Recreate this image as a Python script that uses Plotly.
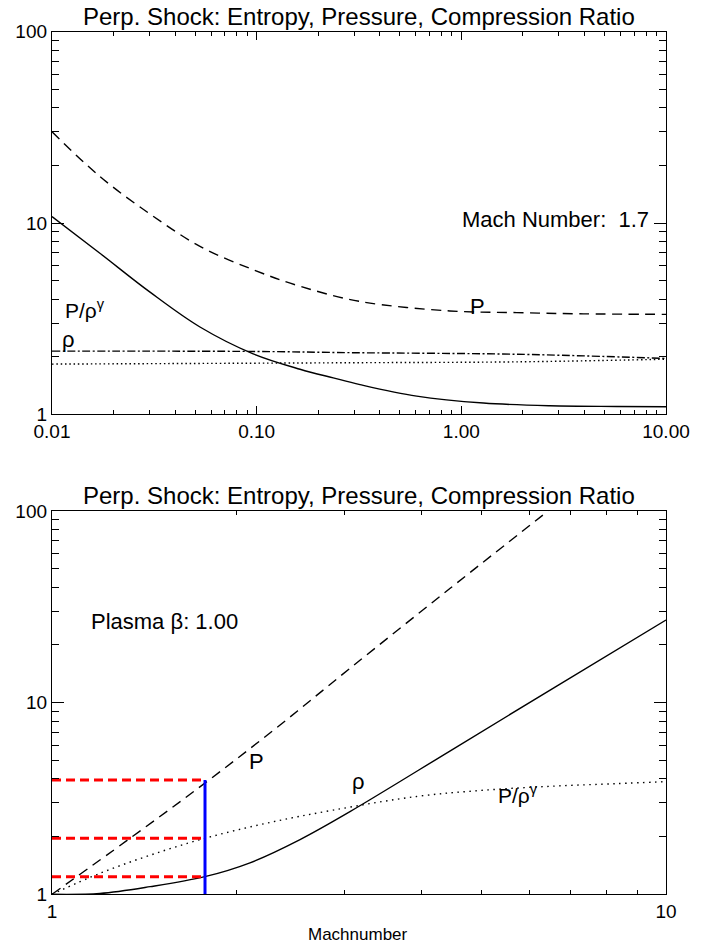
import plotly.graph_objects as go

# ---------------- data ----------------
# Top panel: Mach number 1.7, quantities vs plasma beta
beta_solid = [0.01, 0.01714, 0.03013, 0.05284, 0.09616, 0.1629, 0.2366, 0.3199, 0.6053, 1.282, 2.710, 5.741, 10.0]
val_solid_top = [10.8, 6.95, 4.35, 2.86, 2.07, 1.72, 1.55, 1.43, 1.245, 1.145, 1.108, 1.099, 1.096]

beta_dash = [0.01, 0.01714, 0.03013, 0.05284, 0.09616, 0.1629, 0.3199, 0.879, 1.862, 3.945, 10.0]
val_dash_top = [30.0, 17.5, 11.14, 7.55, 5.70, 4.67, 3.89, 3.47, 3.40, 3.35, 3.33]

beta_dashdot = [0.01, 0.1, 0.2858, 1.862, 10.0]
val_dashdot_top = [2.14, 2.13, 2.10, 2.06, 1.96]

beta_dot = [0.01, 0.2858, 1.862, 10.0]
val_dot_top = [1.83, 1.86, 1.88, 1.94]

# Bottom panel: plasma beta 1.00, quantities vs Mach number
mach_solid = [1.0, 1.197, 1.445, 1.774, 2.101, 2.535, 3.057, 4.467, 6.607, 10.0]
val_solid_bot = [1.0, 1.01, 1.096, 1.236, 1.46, 1.93, 2.70, 5.64, 12.1, 27.0]

mach_dot = [1.0, 1.197, 1.445, 1.774, 2.237, 2.871, 3.926, 5.040, 6.471, 8.318, 10.0]
val_dot_bot = [1.0, 1.287, 1.60, 1.96, 2.35, 2.75, 3.24, 3.49, 3.66, 3.78, 3.87]

mach_dash = [1.0, 1.340, 1.774, 2.323, 3.057, 4.446, 6.427]
val_dash_bot = [1.0, 1.96, 3.80, 7.41, 15.1, 39.4, 100.0]

# marker at the chosen Mach number in the bottom panel
mach_marker = 1.775
marker_levels = [3.95, 1.96, 1.236]

title_text = "Perp. Shock: Entropy, Pressure, Compression Ratio"
top_xticks = [0.01, 0.1, 1, 10]
top_xticktext = ["0.01", "0.10", "1.00", "10.00"]
bot_xticks = [1, 10]
bot_xticktext = ["1", "10"]
yticks = [1, 10, 100]
yticktext = ["1", "10", "100"]

# ---------------- figure ----------------
W, H = 709, 943
FONT = "Liberation Sans"
fig = go.Figure()

def px_x(p):
    return p / W

def px_y(p):
    return 1 - p / H

LW = 1.4
fig.add_trace(go.Scatter(x=beta_solid, y=val_solid_top, mode="lines", line=dict(color="black", width=LW, shape="spline"), xaxis="x", yaxis="y"))
fig.add_trace(go.Scatter(x=beta_dash, y=val_dash_top, mode="lines", line=dict(color="black", width=LW, dash="10px,6.5px", shape="spline"), xaxis="x", yaxis="y"))
fig.add_trace(go.Scatter(x=beta_dashdot, y=val_dashdot_top, mode="lines", line=dict(color="black", width=LW, dash="8px,2.5px,2px,2.5px", shape="spline"), xaxis="x", yaxis="y"))
fig.add_trace(go.Scatter(x=beta_dot, y=val_dot_top, mode="lines", line=dict(color="black", width=LW, dash="1.5px,2.8px", shape="spline"), xaxis="x", yaxis="y"))

fig.add_trace(go.Scatter(x=mach_solid, y=val_solid_bot, mode="lines", line=dict(color="black", width=LW, shape="spline"), xaxis="x2", yaxis="y2"))
fig.add_trace(go.Scatter(x=mach_dot, y=val_dot_bot, mode="lines", line=dict(color="black", width=LW, dash="1.5px,4.5px", shape="spline"), xaxis="x2", yaxis="y2"))
fig.add_trace(go.Scatter(x=mach_dash, y=val_dash_bot, mode="lines", line=dict(color="black", width=LW, dash="10px,6.5px", shape="spline"), xaxis="x2", yaxis="y2"))

for lv in marker_levels:
    fig.add_trace(go.Scatter(x=[1.0, mach_marker], y=[lv, lv], mode="lines", line=dict(color="#ff0000", width=3, dash="9px,5px"), xaxis="x2", yaxis="y2"))
fig.add_trace(go.Scatter(x=[mach_marker, mach_marker], y=[1.0, max(marker_levels)], mode="lines", line=dict(color="#0000ff", width=3), xaxis="x2", yaxis="y2"))

def minor_vals(lo, hi):
    out = []
    d = lo
    while d < hi:
        out += [k * 10 ** d for k in range(2, 10)]
        d += 1
    return out

common_x = dict(type="log", showline=True, linecolor="black", linewidth=1.3, mirror="ticks", automargin=False,
                ticks="inside", ticklen=8, tickwidth=1.2, tickcolor="black", showgrid=False, zeroline=False,
                tickfont=dict(family=FONT, size=19, color="black"))
common_y = dict(type="log", showline=True, linecolor="black", linewidth=1.3, mirror="ticks", automargin=False,
                ticks="inside", ticklen=12, tickwidth=1.2, tickcolor="black", showgrid=False, zeroline=False,
                tickfont=dict(family=FONT, size=19, color="black"), range=[0, 2],
                tickmode="array", tickvals=yticks, ticktext=yticktext,
                minor=dict(tickmode="array", tickvals=minor_vals(0, 2), ticks="inside", ticklen=7, tickwidth=1.2, tickcolor="black", showgrid=False))

dom_x = [px_x(52), px_x(666)]
fig.update_layout(
    width=W, height=H, margin=dict(l=0, r=0, t=0, b=0, pad=0, autoexpand=False),
    paper_bgcolor="white", plot_bgcolor="white", showlegend=False,
    xaxis=dict(common_x, domain=dom_x, anchor="y", range=[-2, 1], tickmode="array", tickvals=top_xticks, ticktext=top_xticktext,
               minor=dict(tickmode="array", tickvals=minor_vals(-2, 1), ticks="inside", ticklen=4, tickwidth=1.2, tickcolor="black", showgrid=False)),
    yaxis=dict(common_y, domain=[px_y(414.3), px_y(31.7)], anchor="x"),
    xaxis2=dict(common_x, domain=dom_x, anchor="y2", range=[0, 1], tickmode="array", tickvals=bot_xticks, ticktext=bot_xticktext,
                minor=dict(tickmode="array", tickvals=minor_vals(0, 1), ticks="inside", ticklen=4, tickwidth=1.2, tickcolor="black", showgrid=False)),
    yaxis2=dict(common_y, domain=[px_y(894.3), px_y(511)], anchor="x2"),
)

def ann(text, x, y, size=22, xanchor="center", yanchor="middle"):
    fig.add_annotation(text=text, x=px_x(x), y=px_y(y), xref="paper", yref="paper", showarrow=False,
                       xanchor=xanchor, yanchor=yanchor, align=xanchor, borderpad=0,
                       font=dict(family=FONT, size=size, color="black"))

ann(title_text, 359, 16, size=24)
ann(title_text, 359, 495, size=24)
ann("Mach Number:  1.7", 650, 219, xanchor="right")
ann("P", 478, 306)
ann("P/ρ<sup>γ</sup>", 64, 309, size=21, xanchor="left")
ann("ρ", 61, 339, xanchor="left")
ann("Plasma β: 1.00", 90, 621, xanchor="left")
ann("P", 256, 761)
ann("ρ", 358, 781)
ann("P/ρ<sup>γ</sup>", 497, 794, size=21, xanchor="left")
ann("Machnumber", 358, 934, size=17)

fig.write_html("out.html")
